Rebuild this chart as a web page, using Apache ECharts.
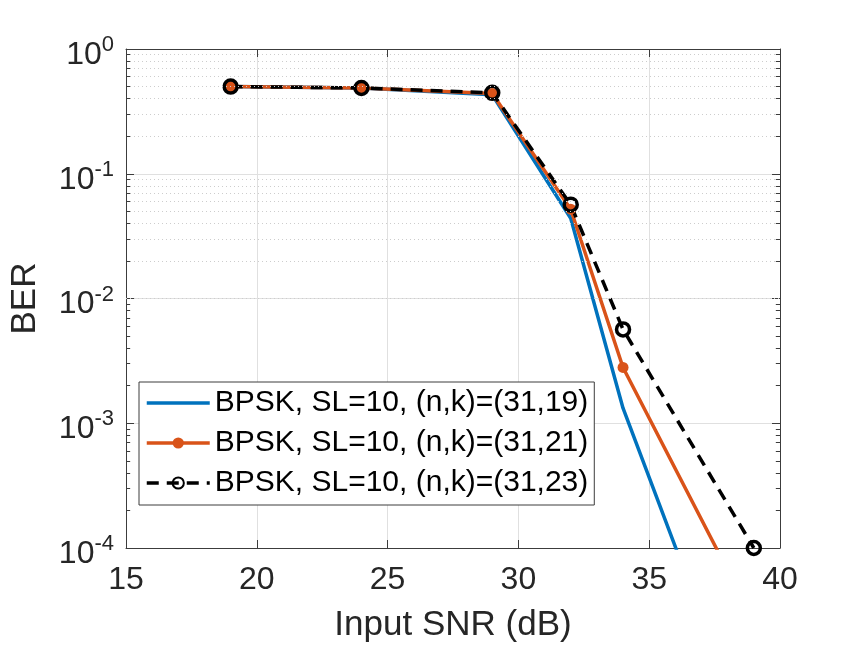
<!DOCTYPE html>
<html>
<head>
<meta charset="utf-8">
<script src="https://cdn.jsdelivr.net/npm/echarts@6/dist/echarts.min.js"></script>
<style>
  html, body { margin: 0; padding: 0; background: #fff; }
  #chart { width: 861px; height: 648px; }
</style>
</head>
<body>
<div id="chart"></div>
<script>
  // data
  let snr = [19, 24, 29, 32, 34, 39];
  let ber19 = [0.50, 0.487, 0.43, 0.044, 0.00132, 0.0000022];
  let ber21 = [0.50, 0.487, 0.44, 0.052, 0.0028, 0.000026];
  let ber23 = [0.50, 0.487, 0.445, 0.0565, 0.00565, 0.0001];
  let names = [
    'BPSK, SL=10, (n,k)=(31,19)',
    'BPSK, SL=10, (n,k)=(31,21)',
    'BPSK, SL=10, (n,k)=(31,23)'
  ];
  let xTicks = [15, 20, 25, 30, 35, 40];
  let yDecades = [-4, -3, -2, -1, 0];

  let font = 'Liberation Sans';
  let axisColor = '#3c3c3c';

  function pairs(xs, ys) {
    return xs.map(function (x, i) { return [x, ys[i]]; });
  }

  // minor log gridlines 2..9 x 10^d, plus short inside ticks on both sides
  let minorGrid = [];
  let minorTicks = [];
  yDecades.slice(0, -1).forEach(function (d) {
    for (let m = 2; m <= 9; m++) {
      let v = m * Math.pow(10, d);
      minorGrid.push({ yAxis: v });
      minorTicks.push([{ coord: [15, v] }, { coord: [15.16, v] }]);
      minorTicks.push([{ coord: [39.84, v] }, { coord: [40, v] }]);
    }
  });

  let myChart = echarts.init(document.getElementById('chart'));

  let yLabel = {
    fontFamily: font,
    color: '#262626',
    margin: 12,
    formatter: function (v) {
      let e = Math.round(Math.log10(v));
      return '{b|10}{s|' + e + '}';
    },
    rich: {
      b: { fontSize: 32, fontFamily: font, color: '#262626', lineHeight: 30, padding: [12, 0, 0, 0] },
      s: { fontSize: 22, fontFamily: font, color: '#262626', lineHeight: 22, verticalAlign: 'top' }
    }
  };

  let option = {
    backgroundColor: '#fff',
    animation: false,
    grid: {
      left: 125,
      right: 81,
      top: 49,
      bottom: 99,
      containLabel: false
    },
    legend: {
      data: [
        // plain line for the first entry, no marker
        { name: names[0], itemStyle: { opacity: 0 } },
        { name: names[1] },
        { name: names[2] }
      ],
      orient: 'vertical',
      left: 139,
      top: 382,
      backgroundColor: '#fff',
      borderColor: '#3c3c3c',
      borderWidth: 1,
      borderRadius: 0,
      padding: [6, 6, 7, 6],
      itemWidth: 63,
      itemHeight: 14,
      itemGap: 10,
      lineStyle: { width: 3.5 },
      textStyle: {
        fontFamily: font,
        fontSize: 30,
        lineHeight: 30,
        color: '#000'
      }
    },
    xAxis: [
      {
        type: 'value',
        min: 15,
        max: 40,
        interval: 5,
        name: 'Input SNR (dB)',
        nameLocation: 'middle',
        nameGap: 60,
        nameTextStyle: { fontFamily: font, fontSize: 35, color: '#262626' },
        axisLine: { show: true, lineStyle: { color: axisColor, width: 1 } },
        axisTick: { show: true, inside: true, length: 8, lineStyle: { color: axisColor } },
        axisLabel: {
          fontFamily: font, fontSize: 32, color: '#262626', margin: 16,
          formatter: function (v) { return xTicks.indexOf(v) >= 0 ? String(v) : ''; }
        },
        splitLine: { show: true, lineStyle: { color: '#e0e0e0', width: 1 } }
      },
      {
        type: 'value',
        position: 'top',
        min: 15,
        max: 40,
        interval: 5,
        axisLine: { show: true, lineStyle: { color: axisColor, width: 1 } },
        axisTick: { show: true, inside: true, length: 8, lineStyle: { color: axisColor } },
        axisLabel: { show: false },
        splitLine: { show: false }
      }
    ],
    yAxis: [
      {
        type: 'log',
        logBase: 10,
        min: 1e-4,
        max: 1,
        name: 'BER',
        nameLocation: 'middle',
        nameGap: 83,
        nameTextStyle: { fontFamily: font, fontSize: 35, color: '#262626' },
        axisLine: { show: true, lineStyle: { color: axisColor, width: 1 } },
        axisTick: { show: true, inside: true, length: 8, lineStyle: { color: axisColor } },
        axisLabel: yLabel,
        splitLine: { show: true, lineStyle: { color: '#e0e0e0', width: 1 } }
      },
      {
        type: 'log',
        logBase: 10,
        min: 1e-4,
        max: 1,
        position: 'right',
        axisLine: { show: true, lineStyle: { color: axisColor, width: 1 } },
        axisTick: { show: true, inside: true, length: 8, lineStyle: { color: axisColor } },
        axisLabel: { show: false },
        splitLine: { show: false }
      }
    ],
    series: [
      {
        // minor grid + minor ticks only
        name: 'grid',
        type: 'line',
        data: [],
        z: 1,
        silent: true,
        markLine: {
          silent: true,
          symbol: 'none',
          label: { show: false },
          animation: false,
          data: minorGrid.map(function (g) {
            return Object.assign({ lineStyle: { color: '#cdcdcd', width: 1, type: [1, 3] } }, g);
          }).concat(minorTicks.map(function (t) {
            return [Object.assign({ lineStyle: { color: axisColor, width: 1, type: 'solid' } }, t[0]), t[1]];
          }))
        }
      },
      {
        name: names[0],
        type: 'line',
        data: pairs(snr, ber19),
        symbol: 'none',
        clip: true,
        lineStyle: { color: '#0072BD', width: 3.5 },
        itemStyle: { color: '#0072BD' }
      },
      {
        name: names[1],
        type: 'line',
        data: pairs(snr, ber21),
        symbol: 'circle',
        symbolSize: 11,
        showAllSymbol: true,
        clip: true,
        lineStyle: { color: '#D95319', width: 3.5 },
        itemStyle: { color: '#D95319', borderWidth: 0 }
      },
      {
        name: names[2],
        type: 'line',
        data: pairs(snr, ber23),
        symbol: 'circle',
        symbolSize: 13,
        showAllSymbol: true,
        clip: true,
        lineStyle: { color: '#000', width: 3.5, type: [12, 8] },
        itemStyle: { color: 'rgba(0,0,0,0)', borderColor: '#000', borderWidth: 3.5 }
      }
    ]
  };

  myChart.setOption(option);
  window.addEventListener('resize', function () {
    myChart.resize();
  });
</script>
</body>
</html>
